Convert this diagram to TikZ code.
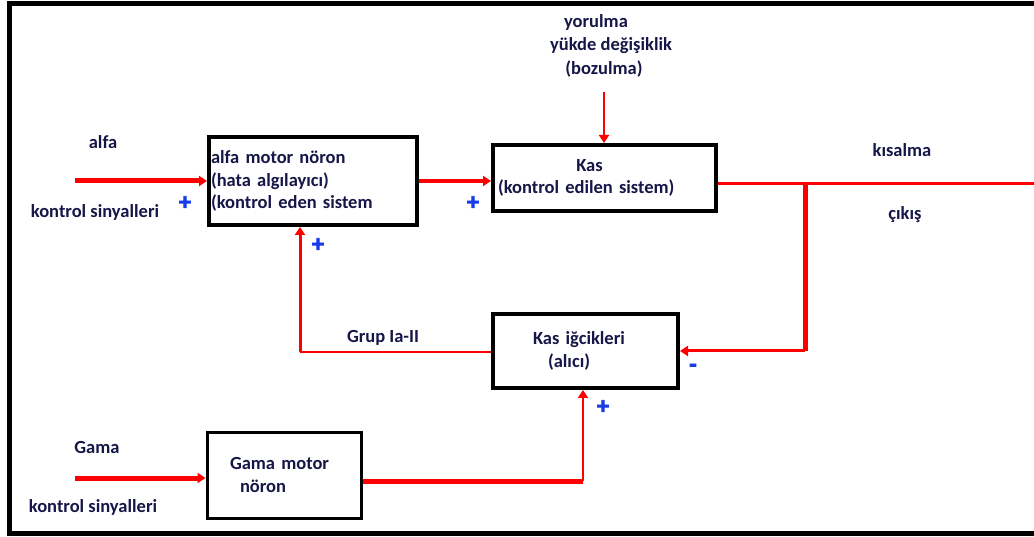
\documentclass[tikz,border=0pt]{standalone}
\usepackage{fontspec}
\setmainfont{Carlito}
\newfontfamily\kalinfont[BoldFeatures={FakeBold=3}]{Carlito}
\usetikzlibrary{arrows.meta,positioning}
\definecolor{yazirengi}{RGB}{22,22,72}
\definecolor{mavi}{RGB}{25,60,235}
\newcommand{\yazifont}{\fontsize{18.5}{22.5}\selectfont\bfseries}

\begin{document}
\begin{tikzpicture}[x=1pt,y=-1pt,
    kutu/.style={draw=black,line width=4pt,fill=white,text=yazirengi,font=\yazifont,inner sep=0pt},
    etiket/.style={text=yazirengi,font=\yazifont,inner sep=0pt},
    isaret/.style={text=mavi,font=\kalinfont\fontsize{24}{24}\selectfont\bfseries,inner sep=0pt},
    sinyal/.style={draw=red,line width=#1},
    ok/.style={-{Triangle[length=8pt,width=10pt]}}]

    \useasboundingbox (0,0) rectangle (1034,537);

    % cerceve (sag kenar yok)
    \draw[line width=5pt] (1034,4) -- (9.5,4) -- (9.5,533) -- (1034,533);

    % bloklar
    \node[kutu,minimum width=208,minimum height=88,text width=204,align=left] (alfa) at (313,181)
        {alfa motor nöron\\(hata algılayıcı)\\(kontrol eden sistem};
    \node[kutu,minimum width=223,minimum height=66,text width=213,align=left] (kas) at (604.5,178)
        {\makebox[183pt]{Kas}\\(kontrol edilen sistem)};
    \node[kutu,minimum width=185,minimum height=74,text width=177,align=left] (igcik) at (585.5,351)
        {\hspace*{36pt}Kas iğcikleri\\\hspace*{51pt}(alıcı)};
    \node[kutu,line width=3pt,minimum width=154,minimum height=86,text width=146,align=left] (gama) at (284,475)
        {\hspace*{19pt}Gama motor\\\hspace*{29pt}nöron};

    % serbest uclar
    \coordinate (alfagiris) at (75,181);
    \coordinate (gamagiris) at (75,478);
    \coordinate (bozulma) at (604,92);
    \coordinate (cikis) at (1034,184);
    \coordinate (dal) at (805,184);
    \coordinate (geri) at (300,352);
    \coordinate (kose) at (583,481);

    % sinyal yollari
    \draw[sinyal=5pt,ok] (alfagiris) -- (alfagiris -| alfa.west);
    \draw[sinyal=4pt,ok] (alfa.east) -- (alfa.east -| kas.west);
    \draw[sinyal=2pt,ok] (bozulma) -- (bozulma |- kas.north);
    \draw[sinyal=3pt] (kas.east |- cikis) -- (cikis);
    \draw[sinyal=5pt] (dal) -- (dal |- igcik.east);
    \draw[sinyal=3pt,ok] (dal |- igcik.east) -- (igcik.east);
    \draw[sinyal=2pt] (igcik.west |- geri) -- (geri);
    \draw[sinyal=3pt,ok] (geri) -- (geri |- alfa.south);
    \draw[sinyal=5pt,ok] (gamagiris) -- (gamagiris -| gama.west);
    \draw[sinyal=5pt] (gama.east |- kose) -- (kose);
    \draw[sinyal=2pt,ok] (kose) -- (kose |- igcik.south);

    % yazilar
    \node[etiket] (alfayazi) at (103,142) {alfa};
    \node[etiket] (alfakontrol) at (95,212) {kontrol sinyalleri};
    \node[etiket] (yorulma) at (596,22) {yorulma};
    \node[etiket] (yuk) at (611,46) {yükde değişiklik};
    \node[etiket] (bozulmayazi) at (604,69) {(bozulma)};
    \node[etiket] (kisalma) at (902,150) {kısalma};
    \node[etiket] (cikisyazi) at (905,215) {çıkış};
    \node[etiket] (grup) at (383,338) {Grup Ia-II};
    \node[etiket] (gamayazi) at (97,448) {Gama};
    \node[etiket] (gamakontrol) at (93,507) {kontrol sinyalleri};

    % isaretler
    \node[isaret] (arti1) at (185,203) {+};
    \node[isaret] (arti2) at (473,203) {+};
    \node[isaret] (arti3) at (318,245) {+};
    \node[isaret] (arti4) at (603,407) {+};
    \node[isaret] (eksi) at (693,368) {-};
\end{tikzpicture}
\end{document}
